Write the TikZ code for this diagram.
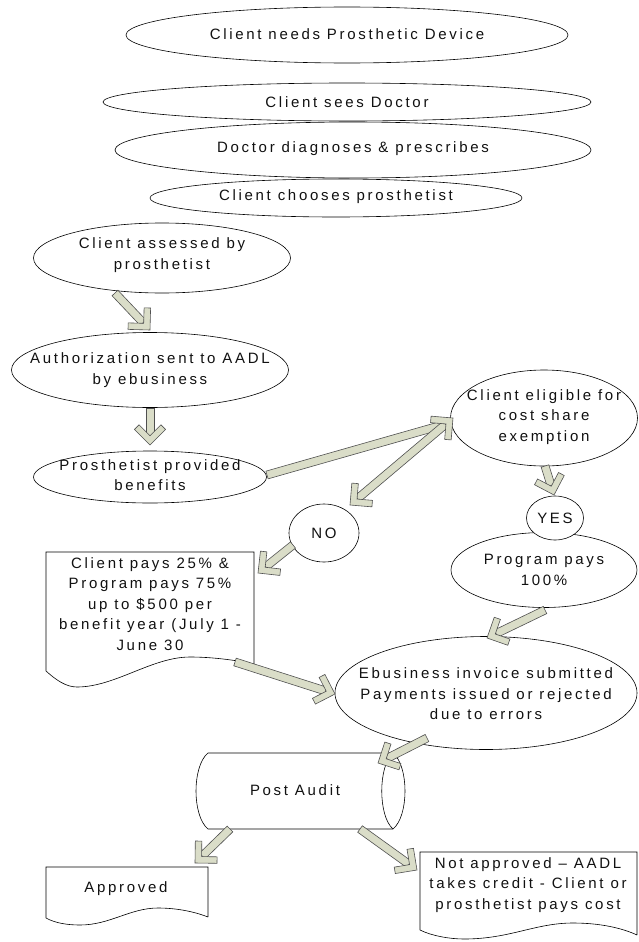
\documentclass[tikz,border=0pt]{standalone}
\usepackage{fontspec}
\setmainfont{Liberation Sans}[LetterSpace=18]
\usetikzlibrary{shapes.geometric,calc}
\definecolor{arrfill}{HTML}{DADDC8}
\definecolor{arrline}{HTML}{505050}
\definecolor{txtcol}{HTML}{111111}
\newcommand{\myshaft}[2]{%
  \filldraw[arrstyle] ($(#1)!4pt!90:(#2)$) -- ($(#2)!4pt!-90:(#1)$) -- ($(#2)!4pt!90:(#1)$) -- ($(#1)!4pt!-90:(#2)$) -- cycle;}
\newcommand{\mychev}[2]{%
  \filldraw[arrstyle] (#2) -- ($(#2)!22pt!45:(#1)$) -- ($(#2)!22.95pt!28.5:(#1)$) -- ($(#2)!9.2pt!(#1)$) -- ($(#2)!22.95pt!-28.5:(#1)$) -- ($(#2)!22pt!-45:(#1)$) -- cycle;}
\newcommand{\blockarrow}[2]{%
  \coordinate (bac) at ($(#2)!10pt!(#1)$);
  \myshaft{#1}{bac}\mychev{#1}{#2}}
\begin{document}
\begin{tikzpicture}[x=1pt,y=-1pt,
  ell/.style={draw=black, fill=white, line width=0.6pt, ellipse, inner sep=0pt, outer sep=0pt},
  txt/.style={font=\fontsize{15}{20.5}\selectfont, align=center, text=txtcol, inner sep=0pt},
  arrstyle/.style={fill=arrfill, draw=arrline, line width=0.6pt, line join=miter},
  box/.style={draw=black, fill=white, line width=0.6pt}]
\useasboundingbox[fill=white] (0,0) rectangle (638,942);

% ellipses
\node[ell, minimum width=442pt, minimum height=56pt] (need) at (347,35) {};
\node[txt] (needt) at (347,34) {Client needs Prosthetic Device};
\node[ell, minimum width=488pt, minimum height=38pt] (sees) at (347,102) {};
\node[txt] (seest) at (347,102) {Client sees Doctor};
\node[ell, minimum width=476pt, minimum height=56pt] (diag) at (353,150) {};
\node[txt] (diagt) at (353,149) {Doctor diagnoses \& prescribes};
\node[ell, minimum width=372pt, minimum height=38pt] (choose) at (336,198) {};
\node[txt] (chooset) at (336,197) {Client chooses prosthetist};
\node[ell, minimum width=257pt, minimum height=70pt] (assess) at (162,258) {};
\node[txt] (assesst) at (162,255) {Client assessed by\\prosthetist};
\node[ell, minimum width=277pt, minimum height=75pt] (auth) at (150,370) {};
\node[txt] (autht) at (150,370) {Authorization sent to AADL\\by ebusiness};
\node[ell, minimum width=233pt, minimum height=52pt] (prov) at (150,477) {};
\node[txt] (provt) at (150,475) {Prosthetist provided\\benefits};
\node[ell, minimum width=187pt, minimum height=96pt] (elig) at (544,418) {};
\node[txt] (eligt) at (544,417) {Client eligible for\\cost share\\exemption};
\node[ell, minimum width=186pt, minimum height=75pt] (prog) at (544,570) {};
\node[txt] (progt) at (544,570) {Program pays\\100\%};
\node[ell, minimum width=57pt, minimum height=44pt] (yes) at (555,518) {};
\node[txt] (yest) at (555,518) {YES};
\node[ell, minimum width=70pt, minimum height=58pt] (no) at (324,533) {};
\node[txt] (not) at (324,533) {NO};
\node[ell, minimum width=302pt, minimum height=113pt] (ebiz) at (486,693) {};
\node[txt] (ebizt) at (486,694) {Ebusiness invoice submitted\\Payments issued or rejected\\due to errors};

% documents
\draw[box] (254,664) -- (254,552) -- (46,552) -- (46,671)
  .. controls (56,680) and (66,687) .. (77,687)
  .. controls (115,687) and (152,657) .. (190,657)
  .. controls (212,657) and (235,660) .. (254,664);
\node[txt] (cp) at (150,604) {Client pays 25\% \&\\Program pays 75\%\\up to \$500 per\\benefit year (July 1 -\\June 30};

\draw[box] (208,917) -- (208,867) -- (46,867) -- (46,918)
  .. controls (55,923) and (67,925) .. (80,925)
  .. controls (110,925) and (130,908) .. (158,908)
  .. controls (180,908) and (198,913) .. (208,917);
\node[txt] (appr) at (126,889) {Approved};

\draw[box] (637,935) -- (637,852) -- (420,852) -- (420,930)
  .. controls (432,936) and (450,939) .. (464,939)
  .. controls (510,939) and (535,923) .. (573,923)
  .. controls (600,923) and (622,928) .. (637,935);
\node[txt] (nappr) at (528,885) {Not approved -- AADL\\takes credit - Client or\\prosthetist pays cost};

% post audit
\draw[box] (208,753) -- (393,753) .. controls (409,766) and (409,816) .. (393,829)
  -- (208,829) .. controls (192,816) and (192,766) .. (208,753) -- cycle;
\draw[box, fill=none] (393,753) .. controls (378,766) and (378,816) .. (393,829);
\node[txt] (post) at (295,790) {Post Audit};

% arrow end points
\coordinate (a1s) at (115,293); \coordinate (a1e) at (150,330);
\coordinate (a2s) at (150,408); \coordinate (a2e) at (150,445);
\coordinate (a3s) at (267,475); \coordinate (a3e) at (446,424);
\coordinate (a4s) at (350,505); \coordinate (a4e) at (453,418);
\coordinate (a5s) at (545,466); \coordinate (a5e) at (554,495);
\coordinate (a6s) at (293,545); \coordinate (a6e) at (258,573);
\coordinate (a7s) at (545,610); \coordinate (a7e) at (487,638);
\coordinate (a8s) at (235,662); \coordinate (a8e) at (335,694);
\coordinate (a9s) at (427,738); \coordinate (a9e) at (378,763);
\coordinate (a10s) at (230,829); \coordinate (a10e) at (195,863);
\coordinate (a11s) at (360,829); \coordinate (a11e) at (417,870);

\blockarrow{a1s}{a1e}
\blockarrow{a2s}{a2e}
\myshaft{a3s}{a3e}
\coordinate (d1) at ($(a4s)!10pt!(a4e)$);
\coordinate (d2) at ($(a4e)!10pt!(a4s)$);
\myshaft{d1}{d2}
\mychev{a4e}{a4s}
\mychev{a4s}{a4e}
\blockarrow{a5s}{a5e}
\blockarrow{a6s}{a6e}
\blockarrow{a7s}{a7e}
\blockarrow{a8s}{a8e}
\blockarrow{a9s}{a9e}
\blockarrow{a10s}{a10e}
\blockarrow{a11s}{a11e}
\end{tikzpicture}
\end{document}
